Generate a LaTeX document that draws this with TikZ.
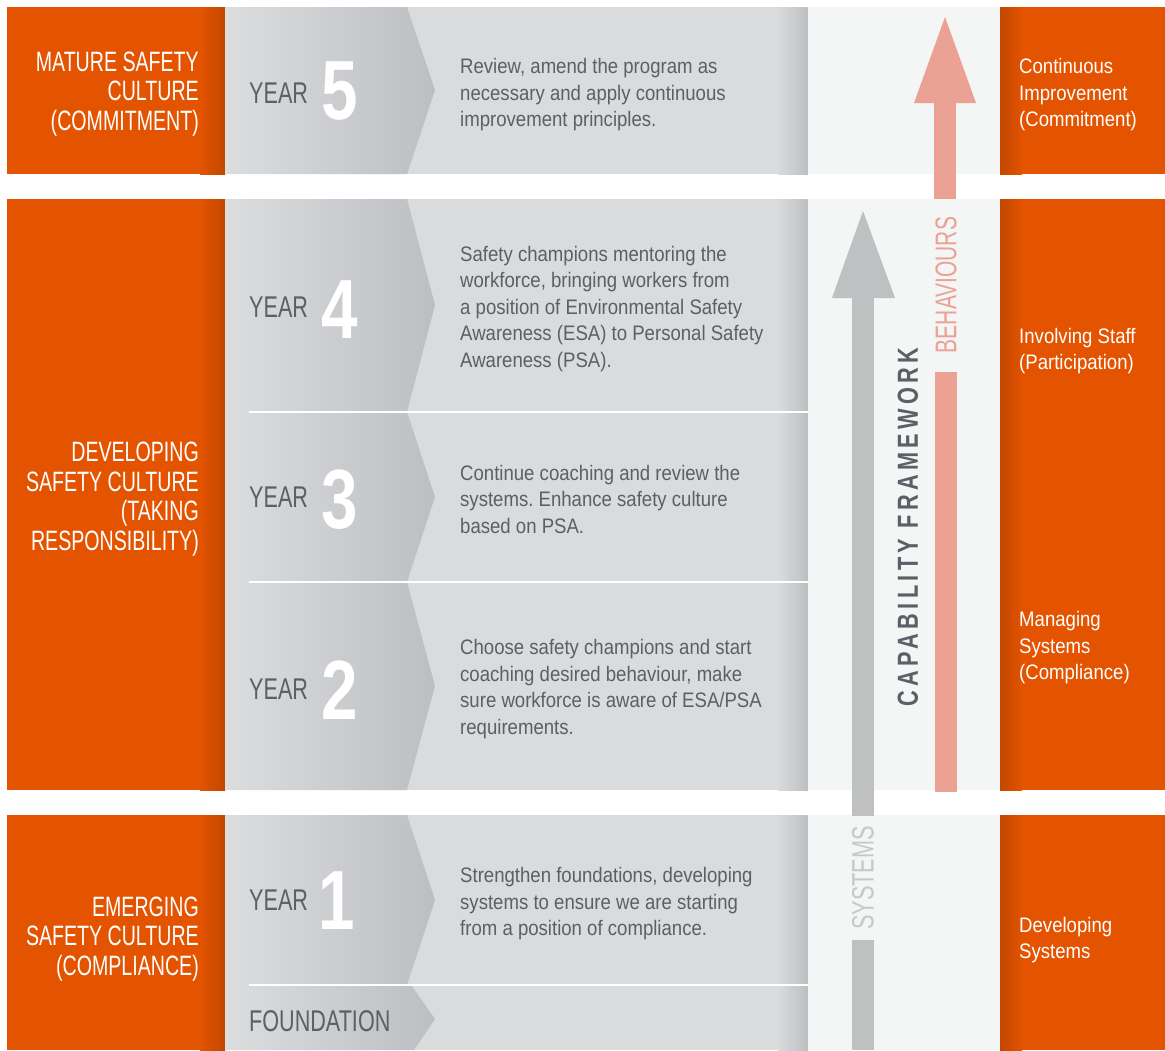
\documentclass[tikz,border=0pt]{standalone}
\usepackage{fontspec}
\setmainfont{Liberation Sans}
\newfontfamily\dinfont[FakeStretch=0.7]{Liberation Sans}
\newfontfamily\yearfont[FakeStretch=0.72]{Liberation Sans}
\newfontfamily\numfont[FakeStretch=0.78]{Liberation Sans}
\newfontfamily\condfont[FakeStretch=0.885]{Liberation Sans}
\newfontfamily\capfont[FakeStretch=0.75,LetterSpace=15]{Liberation Sans}
\frenchspacing

\definecolor{safetyorange}{HTML}{E35300}
\definecolor{orangedark}{HTML}{C24700}
\definecolor{panelgray}{HTML}{DADBDD}
\definecolor{chevlight}{HTML}{DCDDDF}
\definecolor{chevdark}{HTML}{BCBEC1}
\definecolor{panellight}{HTML}{F4F5F5}
\definecolor{textgray}{HTML}{5D5F66}
\definecolor{arrowgray}{HTML}{BFC0C2}
\definecolor{arrowpink}{HTML}{ECA195}
\definecolor{systemsgray}{HTML}{C6C8CA}

\begin{document}
\begin{tikzpicture}[x=1pt, y=-1pt,
    stage/.style={font=\dinfont\fontsize{28}{29.5}\selectfont, text=white, align=right, anchor=east, inner sep=0pt},
    yearlbl/.style={font=\yearfont\fontsize{30}{30}\selectfont, text=textgray, anchor=west, inner sep=0pt},
    yearnum/.style={font=\numfont\bfseries\fontsize{84}{84}\selectfont, text=white, inner sep=0pt},
    desc/.style={font=\condfont\fontsize{21}{26.5}\selectfont, text=textgray, align=left, anchor=west, inner sep=0pt},
    level/.style={font=\condfont\fontsize{21}{26.5}\selectfont, text=white, align=left, anchor=west, inner sep=0pt},
    chevron/.style={left color=chevlight, middle color=chevlight, right color=chevdark},
    sepline/.style={white, line width=2.5pt}]
    \useasboundingbox (0,0) rectangle (1165,1050);
    \fill[white] (0,0) rectangle (1165,1050);

    % 三个阶段的底色
    \fill[safetyorange] (7,7) rectangle (201,174);
    \shade[left color=safetyorange, right color=orangedark] (200,7) rectangle (225,174);
    \fill[panelgray] (225,7) rectangle (808,174);
    \shade[left color=panelgray, right color=chevdark] (778,7) rectangle (808,174);
    \fill[panellight] (808,7) rectangle (1000,174);
    \shade[left color=orangedark, right color=safetyorange] (1000,7) rectangle (1022,174);
    \fill[safetyorange] (1021,7) rectangle (1165,174);

    \fill[safetyorange] (7,199) rectangle (201,790);
    \shade[left color=safetyorange, right color=orangedark] (200,199) rectangle (225,790);
    \fill[panelgray] (225,199) rectangle (808,790);
    \shade[left color=panelgray, right color=chevdark] (778,199) rectangle (808,790);
    \fill[panellight] (808,199) rectangle (1000,790);
    \shade[left color=orangedark, right color=safetyorange] (1000,199) rectangle (1022,790);
    \fill[safetyorange] (1021,199) rectangle (1165,790);

    \fill[safetyorange] (7,815) rectangle (201,1050);
    \shade[left color=safetyorange, right color=orangedark] (200,815) rectangle (225,1050);
    \fill[panelgray] (225,815) rectangle (808,1050);
    \shade[left color=panelgray, right color=chevdark] (778,815) rectangle (808,1050);
    \fill[panellight] (808,815) rectangle (1000,1050);
    \shade[left color=orangedark, right color=safetyorange] (1000,815) rectangle (1022,1050);
    \fill[safetyorange] (1021,815) rectangle (1165,1050);

    % 年份箭头
    \shade[chevron] (225,7) -- (407,7) -- (435,90) -- (407,174) -- (225,174) -- cycle;
    \shade[chevron] (225,199) -- (407,199) -- (435,305) -- (407,412) -- (225,412) -- cycle;
    \shade[chevron] (225,412) -- (407,412) -- (435,497) -- (407,582) -- (225,582) -- cycle;
    \shade[chevron] (225,582) -- (407,582) -- (435,686) -- (407,790) -- (225,790) -- cycle;
    \shade[chevron] (225,815) -- (407,815) -- (435,900) -- (407,985) -- (225,985) -- cycle;
    \shade[chevron] (225,985) -- (411,985) -- (435,1019) -- (414,1050) -- (225,1050) -- cycle;

    % 分隔线
    \draw[sepline] (249,412) -- (808,412);
    \draw[sepline] (249,582) -- (808,582);
    \draw[sepline] (249,985) -- (808,985);

    % 左侧阶段
    \node[stage] (mature) at (199,94) {MATURE SAFETY\\CULTURE\\(COMMITMENT)};
    \node[stage] (developing) at (199,499) {DEVELOPING\\SAFETY CULTURE\\(TAKING\\RESPONSIBILITY)};
    \node[stage] (emerging) at (199,939) {EMERGING\\SAFETY CULTURE\\(COMPLIANCE)};

    % 年份
    \node[yearlbl] (year5) at (249,93) {YEAR};
    \node[yearnum] (num5) at (340,91) {5};
    \node[yearlbl] (year4) at (249,307) {YEAR};
    \node[yearnum] (num4) at (340,310) {4};
    \node[yearlbl] (year3) at (249,497) {YEAR};
    \node[yearnum] (num3) at (340,500) {3};
    \node[yearlbl] (year2) at (249,689) {YEAR};
    \node[yearnum] (num2) at (340,690) {2};
    \node[yearlbl] (year1) at (249,900) {YEAR};
    \node[yearnum] (num1) at (337,901) {1};
    \node[yearlbl] (foundation) at (249,1021) {FOUNDATION};

    % 说明文字
    \node[desc] (desc5) at (460,95) {Review, amend the program as\\necessary and apply continuous\\improvement principles.};
    \node[desc] (desc4) at (460,309) {Safety champions mentoring the\\workforce, bringing workers from\\a position of Environmental Safety\\Awareness (ESA) to Personal Safety\\Awareness (PSA).};
    \node[desc] (desc3) at (460,499) {Continue coaching and review the\\systems. Enhance safety culture\\based on PSA.};
    \node[desc] (desc2) at (460,689) {Choose safety champions and start\\coaching desired behaviour, make\\sure workforce is aware of ESA/PSA\\requirements.};
    \node[desc] (desc1) at (460,904) {Strengthen foundations, developing\\systems to ensure we are starting\\from a position of compliance.};

    % 系统箭头
    \fill[arrowgray] (832,298) -- (863,211) -- (895,298) -- cycle;
    \fill[arrowgray] (852,297) rectangle (874,816);
    \node[rotate=90, font=\dinfont\fontsize{31}{31}\selectfont, text=systemsgray, inner sep=0pt] (systems) at (863,878) {SYSTEMS};
    \fill[arrowgray] (852,940) rectangle (874,1050);

    % 行为箭头
    \fill[arrowpink] (914,103) -- (945,17) -- (976,103) -- cycle;
    \fill[arrowpink] (934,102) rectangle (956,199);
    \node[rotate=90, font=\dinfont\fontsize{30}{30}\selectfont, text=arrowpink, inner sep=0pt] (behaviours) at (946,285) {BEHAVIOURS};
    \fill[arrowpink] (935,372) rectangle (957,792);

    \node[rotate=90, font=\capfont\bfseries\fontsize{29}{29}\selectfont, text=textgray, inner sep=0pt] (framework) at (908,527) {CAPABILITY FRAMEWORK};

    % 右侧层级
    \node[level] (level5) at (1019,95) {Continuous\\Improvement\\(Commitment)};
    \node[level] (level4) at (1019,351) {Involving Staff\\(Participation)};
    \node[level] (level2) at (1019,648) {Managing\\Systems\\(Compliance)};
    \node[level] (level1) at (1019,940) {Developing\\Systems};
\end{tikzpicture}
\end{document}
